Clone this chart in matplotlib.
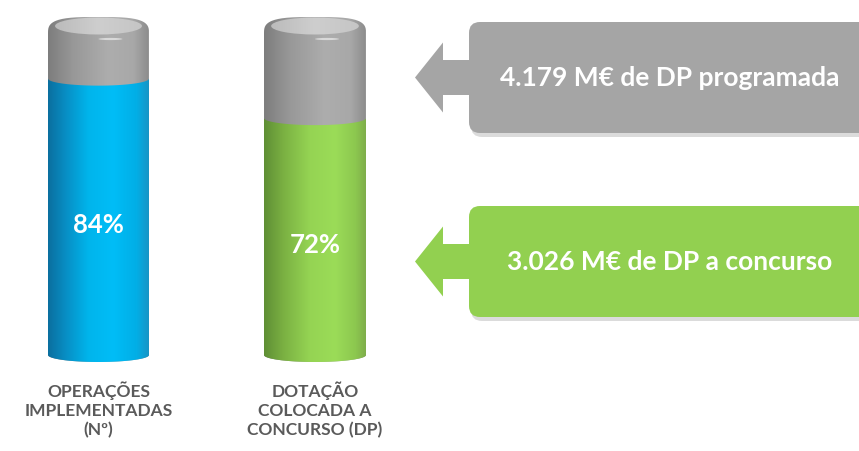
import numpy as np
import matplotlib.pyplot as plt
from matplotlib.colors import LinearSegmentedColormap
from matplotlib.patches import Ellipse, FancyBboxPatch, Polygon, PathPatch
from matplotlib.path import Path

categories = ['OPERAÇÕES\nIMPLEMENTADAS\n(Nº)', 'DOTAÇÃO\nCOLOCADA A\nCONCURSO (DP)']
values = [84, 72]
value_labels = ['84%', '72%']
box_texts = ['4.179 M€ de DP programada', '3.026 M€ de DP a concurso']

plt.rcParams['font.family'] = ['Lato', 'DejaVu Sans']

blue_cm = LinearSegmentedColormap.from_list('b', [(0, '#0b6f9f'), (0.18, '#088fc5'), (0.4, '#00b5ec'),
                                                  (0.65, '#00bdf7'), (0.88, '#02aee6'), (1, '#1895c5')])
green_cm = LinearSegmentedColormap.from_list('g', [(0, '#5f8f35'), (0.2, '#7cb243'), (0.45, '#95d453'),
                                                   (0.7, '#9bdc58'), (0.9, '#8cc74f'), (1, '#7fae4b')])
gray_cm = LinearSegmentedColormap.from_list('k', [(0, '#7d7d7d'), (0.25, '#989898'), (0.6, '#adadad'),
                                                  (0.85, '#a8a8a8'), (1, '#8c8c8c')])
cap_cm = LinearSegmentedColormap.from_list('c', [(0, '#b8b8b8'), (0.5, '#cecece'), (1, '#c4c4c4')])

fig = plt.figure(figsize=(8.59, 4.51), dpi=100)
ax = fig.add_axes([0, 0, 1, 1])
ax.set_xlim(0, 859)
ax.set_ylim(451, 0)
ax.axis('off')

cyl_x = [(48, 149), (264, 366)]
y_full, y_side, y_bot, ry = 26, 34, 355, 7
grad = np.linspace(0, 1, 256).reshape(1, -1)


def arc(cx, rx, yc, r, t0, t1, n=60):
    t = np.linspace(t0, t1, n)
    return np.column_stack([cx + rx * np.cos(t), yc + r * np.sin(t)])


def dome(cx, rx, yc, r, p=0.6, n=80):
    # flattened upper arc (rounded shoulders), right to left
    t = np.linspace(0, -np.pi, n)
    c, s = np.cos(t), np.sin(t)
    return np.column_stack([cx + rx * np.sign(c) * np.abs(c) ** p, yc + r * np.sign(s) * np.abs(s) ** p])


def shaded(path, x0, x1, y0, y1, cmap, z):
    patch = PathPatch(path, facecolor='none', edgecolor='none')
    ax.add_patch(patch)
    im = ax.imshow(grad, cmap=cmap, extent=(x0, x1, y1, y0), aspect='auto', zorder=z)
    im.set_clip_path(patch)


for (x0, x1), v, cmap, lab, cat in zip(cyl_x, values, [blue_cm, green_cm], value_labels, categories):
    cx, rx = (x0 + x1) / 2, (x1 - x0) / 2
    # full gray cylinder
    pts = np.vstack([[[x0, y_side]], [[x0, y_bot]], arc(cx, rx, y_bot, ry, np.pi, 0),
                     [[x1, y_side]], dome(cx, rx, y_side, 17)])
    shaded(Path(pts), x0, x1, y_side - 20, y_bot + 10, gray_cm, 2)
    # filled part
    yb = y_bot - v / 100 * (y_bot - y_full)
    pts = np.vstack([[[x0, yb]], [[x0, y_bot]], arc(cx, rx, y_bot, ry, np.pi, 0),
                     [[x1, yb]], arc(cx, rx, yb, ry, 0, np.pi)])
    shaded(Path(pts), x0, x1, yb - 2, y_bot + 10, cmap, 3)
    # top cap surface
    top = Ellipse((cx, y_full), 2 * rx * 0.86, 17)
    top.set_facecolor('none')
    top.set_edgecolor('none')
    ax.add_patch(top)
    im = ax.imshow(grad, cmap=cap_cm, extent=(x0, x1, y_full + 10, y_full - 10), aspect='auto', zorder=4)
    im.set_clip_path(top)
    ax.add_patch(Ellipse((cx + 12, y_side + 5), 24, 2.2, color='white', alpha=0.55, zorder=5, lw=0))
    ax.text(cx, (yb + y_bot + ry) / 2 + 5, lab, color='white', fontsize=18.5, fontweight='bold',
            ha='center', va='center', zorder=6)
    ax.text(cx, 381, cat, color='#5a5a5a', fontsize=12.5, fontweight='bold', ha='center', va='top',
            linespacing=1.25)

box_y = [(22, 133), (206, 317)]
box_cols = ['#a5a5a5', '#92d050']
for (y0, y1), col, txt in zip(box_y, box_cols, box_texts):
    cy = (y0 + y1) / 2
    ax.add_patch(FancyBboxPatch((471, y0 + 4), 420, y1 - y0, boxstyle='round,pad=0,rounding_size=11',
                                facecolor='#9a9a9a', edgecolor='none', alpha=0.35, zorder=1))
    ax.add_patch(FancyBboxPatch((469, y0), 420, y1 - y0, boxstyle='round,pad=0,rounding_size=11',
                                facecolor=col, edgecolor='none', zorder=2))
    ax.add_patch(Polygon([(415, cy), (443, cy - 35), (443, cy - 17.5), (472, cy - 17.5),
                          (472, cy + 17.5), (443, cy + 17.5), (443, cy + 35)],
                         closed=True, facecolor=col, edgecolor='none', zorder=2))
    ax.text(670, cy, txt, color='white', fontsize=19, fontweight='bold', ha='center', va='center', zorder=3)

fig.savefig('out.png', dpi=100)
